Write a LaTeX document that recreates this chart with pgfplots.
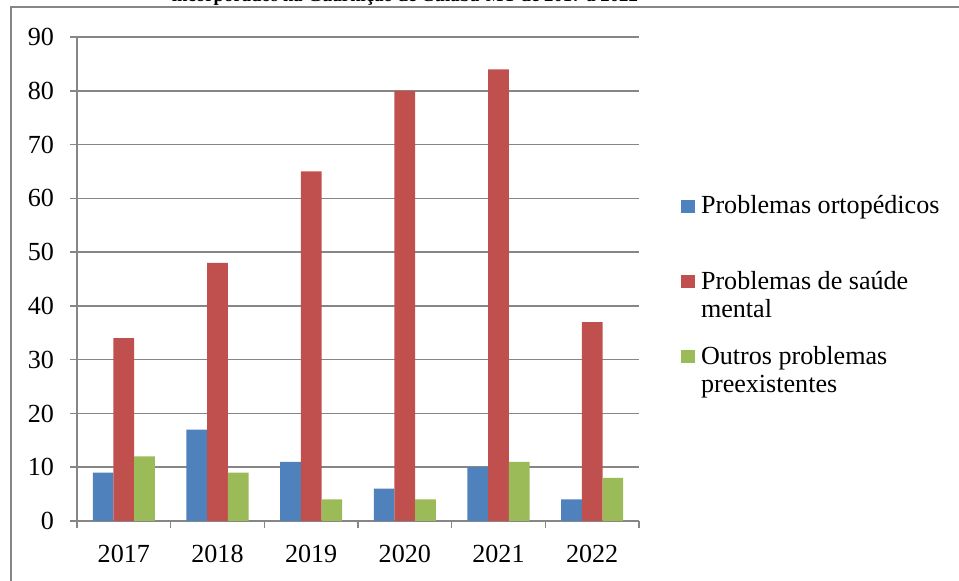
\documentclass[border=0pt]{standalone}
\usepackage{pgfplots}
\pgfplotsset{compat=1.18}
\usepackage{fontspec}
\setmainfont{Liberation Serif}
\definecolor{cblue}{HTML}{4F81BD}
\definecolor{cred}{HTML}{C0504D}
\definecolor{cgreen}{HTML}{9BBB59}
\definecolor{cgrid}{HTML}{868686}
\newcommand{\fs}{\fontsize{13.1}{15}\selectfont}
\begin{document}
\begin{tikzpicture}
\useasboundingbox (0,0) rectangle (479.5bp,290.5bp);
\clip (0,0) rectangle (479.5bp,290.5bp);
\draw[cgrid, line width=1bp] (5.5bp,-5bp) -- (5.5bp,287bp) -- (485bp,287bp);
\node[anchor=base, inner sep=0] at (202.5bp,289.5bp) {\resizebox{233bp}{!}{\bfseries incorporados na Guarnição de Cuiabá-MT de 2017 a 2022}};
\begin{axis}[
  at={(38.5bp,30bp)}, anchor=south west, scale only axis,
  width=281bp, height=242bp,
  ybar=0pt, bar width=10.35bp,
  xmin=-0.5, xmax=5.5, ymin=0, ymax=90,
  enlarge x limits=false, enlarge y limits=false,
  xtick={0,1,2,3,4,5}, xticklabels={2017,2018,2019,2020,2021,2022},
  minor xtick={-0.5,0.5,1.5,2.5,3.5,4.5,5.5},
  major x tick style={draw=none},
  ytick={0,10,...,90},
  ymajorgrids, grid style={cgrid, line width=0.75bp},
  axis x line*=bottom, axis y line*=left,
  axis line style={-, cgrid, line width=0.75bp},
  tick style={cgrid, line width=0.75bp},
  tick align=outside, major tick length=3.5bp, minor tick length=3.5bp,
  /pgf/number format/assume math mode=true,
  xticklabel style={font=\fs, anchor=base, yshift=-17bp},
  yticklabel style={font=\fs, xshift=-4.5bp},
  every axis plot/.append style={draw=none},
]
\addplot[fill=cblue] coordinates {(0,9) (1,17) (2,11) (3,6) (4,10) (5,4)};
\addplot[fill=cred] coordinates {(0,34) (1,48) (2,65) (3,80) (4,84) (5,37)};
\addplot[fill=cgreen] coordinates {(0,12) (1,9) (2,4) (3,4) (4,11) (5,8)};
\end{axis}
% legend
\fill[cblue] (340.5bp,184bp) rectangle (347.5bp,190.5bp);
\fill[cred] (340.5bp,146.5bp) rectangle (347.5bp,153bp);
\fill[cgreen] (340.5bp,109bp) rectangle (347.5bp,115.5bp);
\node[anchor=base west, inner sep=0, font=\fs] at (350.3bp,183.5bp) {Problemas ortopédicos};
\node[anchor=base west, inner sep=0, font=\fs] at (350.3bp,145.5bp) {Problemas de saúde};
\node[anchor=base west, inner sep=0, font=\fs] at (350.3bp,131.5bp) {mental};
\node[anchor=base west, inner sep=0, font=\fs] at (350.3bp,108bp) {Outros problemas};
\node[anchor=base west, inner sep=0, font=\fs] at (350.3bp,94bp) {preexistentes};
\end{tikzpicture}
\end{document}
